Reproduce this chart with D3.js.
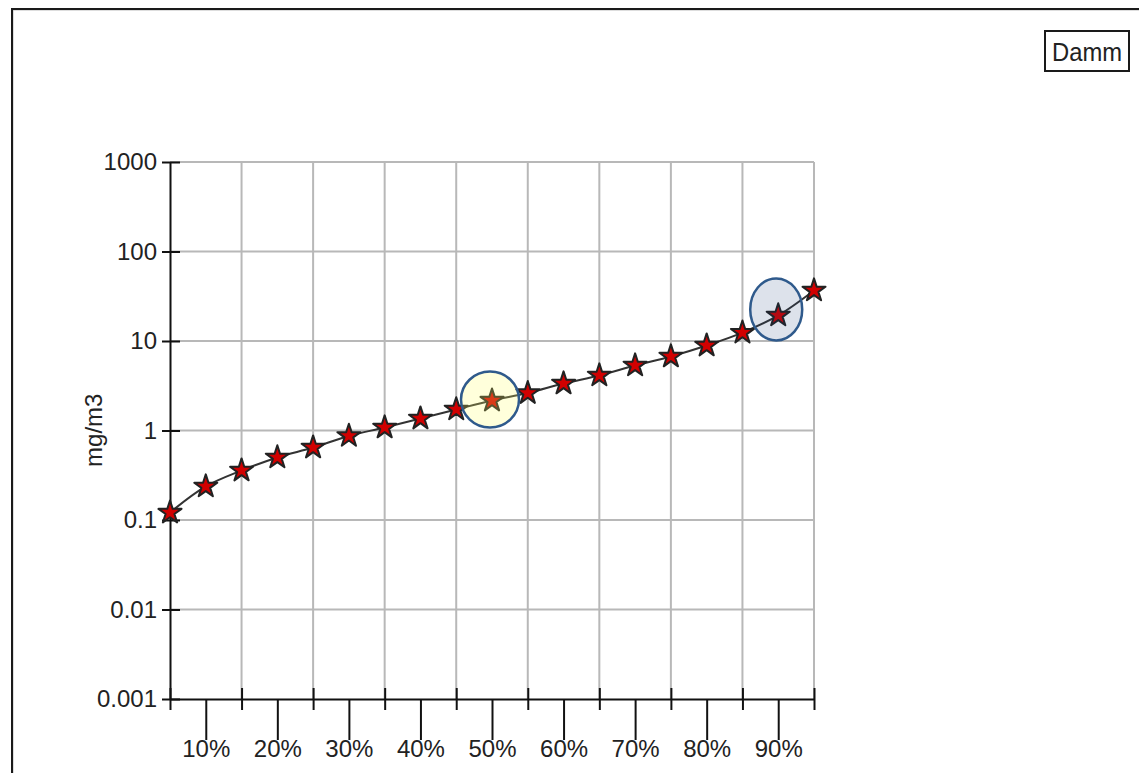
<!DOCTYPE html>
<html>
<head>
<meta charset="utf-8">
<script src="https://cdn.jsdelivr.net/npm/d3@7"></script>
<style>
  html, body { margin: 0; padding: 0; background: #fff; }
  svg { display: block; font-family: "Liberation Sans", Arial, sans-serif; }
</style>
</head>
<body>
<svg id="chart" width="1139" height="773"></svg>
<script>
// Percentile positions of the distribution (%)
const percentiles = [5, 10, 15, 20, 25, 30, 35, 40, 45, 50, 55, 60, 65, 70, 75, 80, 85, 90, 95];
// Concentration at each percentile (mg/m3)
const concentrations = [0.121, 0.237, 0.357, 0.50, 0.645, 0.87, 1.08, 1.36, 1.72, 2.16,
                        2.62, 3.35, 4.12, 5.33, 6.71, 8.9, 12.4, 19.3, 36.7];
// Labelled percentile ticks
const labelledPercentiles = [10, 20, 30, 40, 50, 60, 70, 80, 90];
// Intermediate percentile ticks carrying vertical grid lines
const gridPercentiles = [15, 25, 35, 45, 55, 65, 75, 85, 95];
// Decade ticks on the concentration axis
const decadeTicks = [0.001, 0.01, 0.1, 1, 10, 100, 1000];
const decadeLabels = ["0.001", "0.01", "0.1", "1", "10", "100", "1000"];
// Highlighted percentiles: median and 90th
const medianPct = 50;
const upperPct = 90;
const seriesName = "Damm";
const yTitle = "mg/m3";

const svg = d3.select("#chart");

const x = d3.scaleLinear().domain([5, 95]).range([170, 814]);
const y = d3.scaleLog().domain([0.001, 1000]).range([699, 162]);

// Outer frame
svg.append("rect")
  .attr("x", 13).attr("y", 10).attr("width", 1200).attr("height", 800)
  .attr("fill", "none").attr("stroke", "#bbb").attr("stroke-width", 1);
svg.append("rect")
  .attr("x", 12).attr("y", 9).attr("width", 1200).attr("height", 800)
  .attr("fill", "none").attr("stroke", "#1a1a1a").attr("stroke-width", 2);

// Grid
const grid = svg.append("g").attr("stroke", "#b8b8b8").attr("stroke-width", 2);
grid.selectAll("line.h")
  .data(decadeTicks.slice(1))
  .join("line")
  .attr("class", "h")
  .attr("x1", x(5)).attr("x2", x(95))
  .attr("y1", d => y(d)).attr("y2", d => y(d));
grid.selectAll("line.v")
  .data(gridPercentiles)
  .join("line")
  .attr("class", "v")
  .attr("x1", d => x(d)).attr("x2", d => x(d))
  .attr("y1", y(1000)).attr("y2", y(0.001));

// Y axis
const yAxis = svg.append("g")
  .attr("transform", `translate(${x(5)},0)`)
  .call(d3.axisLeft(y)
    .tickValues(decadeTicks)
    .tickFormat((d, i) => decadeLabels[i])
    .tickSizeInner(8).tickSizeOuter(0).tickPadding(5));
yAxis.select(".domain").attr("stroke", "#111").attr("stroke-width", 2);
yAxis.selectAll(".tick line").attr("x1", 10).attr("stroke", "#111").attr("stroke-width", 2);
yAxis.selectAll(".tick text")
  .attr("font-size", 24).attr("fill", "#222")
  .attr("font-family", "Liberation Sans, Arial, sans-serif");

// X axis: short ticks at every percentile step
const xAxis = svg.append("g")
  .attr("transform", `translate(0,${y(0.001)})`)
  .call(d3.axisBottom(x)
    .tickValues([5].concat(gridPercentiles))
    .tickFormat("")
    .tickSizeInner(11).tickSizeOuter(0));
xAxis.select(".domain").attr("stroke", "#111").attr("stroke-width", 2);
xAxis.selectAll(".tick line").attr("y1", -11).attr("stroke", "#111").attr("stroke-width", 2);

// X axis: long labelled ticks
const xLab = svg.append("g")
  .attr("transform", `translate(0,${y(0.001)})`)
  .call(d3.axisBottom(x)
    .tickValues(labelledPercentiles)
    .tickFormat(d => d + "%")
    .tickSizeInner(41).tickSizeOuter(0).tickPadding(0));
xLab.select(".domain").remove();
xLab.selectAll(".tick line").attr("stroke", "#111").attr("stroke-width", 2);
xLab.selectAll(".tick text")
  .attr("font-size", 24).attr("fill", "#222")
  .attr("font-family", "Liberation Sans, Arial, sans-serif");

// Y title
svg.append("text")
  .attr("transform", `translate(93,${(y(1) + y(0.1)) / 2 - 45}) rotate(-90)`)
  .attr("text-anchor", "middle")
  .attr("dominant-baseline", "central")
  .attr("font-size", 24).attr("fill", "#222")
  .text(yTitle);

// Series line
const points = percentiles.map((p, i) => ({ p, v: concentrations[i] }));
const line = d3.line()
  .x(d => x(d.p)).y(d => y(d.v))
  .curve(d3.curveCatmullRom.alpha(0.5));
svg.append("path")
  .datum(points)
  .attr("d", line)
  .attr("fill", "none")
  .attr("stroke", "#333").attr("stroke-width", 2);

// Star markers
svg.selectAll("path.star")
  .data(points)
  .join("path")
  .attr("class", "star")
  .attr("transform", d => `translate(${x(d.p)},${y(d.v)})`)
  .attr("d", d3.symbol(d3.symbolStar, 165)())
  .attr("fill", "#d10000")
  .attr("stroke", "#222").attr("stroke-width", 2)
  .attr("stroke-linejoin", "round");

// Highlight over the median
const med = points.find(d => d.p === medianPct);
svg.append("ellipse")
  .attr("cx", x(med.p) - 2).attr("cy", y(med.v) - 1)
  .attr("rx", 29).attr("ry", 28)
  .attr("fill", "rgba(255,255,100,0.23)")
  .attr("stroke", "#2f5a8c").attr("stroke-width", 2.5);

// Highlight over the 90th percentile
const p90 = points.find(d => d.p === upperPct);
svg.append("ellipse")
  .attr("cx", x(p90.p) - 2).attr("cy", y(p90.v) - 6)
  .attr("rx", 26).attr("ry", 31)
  .attr("fill", "rgba(30,60,120,0.15)")
  .attr("stroke", "#2f5a8c").attr("stroke-width", 2.5);

// Legend
const leg = svg.append("g");
leg.append("rect")
  .attr("x", 1045).attr("y", 31).attr("width", 84).attr("height", 40)
  .attr("fill", "#fff").attr("stroke", "#1a1a1a").attr("stroke-width", 2);
leg.append("text")
  .attr("x", 1087).attr("y", 61)
  .attr("text-anchor", "middle")
  .attr("font-size", 25).attr("fill", "#222")
  .attr("textLength", 70).attr("lengthAdjust", "spacingAndGlyphs")
  .text(seriesName);
</script>
</body>
</html>
